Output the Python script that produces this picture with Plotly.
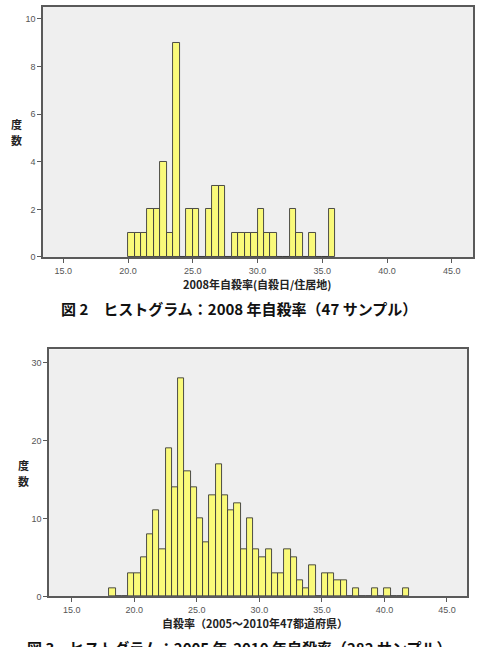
import plotly.graph_objects as go

# Figure 2: 2008 suicide rate histogram (47 samples), bin width 0.5
bins1_left = [20.0, 20.5, 21.0, 21.5, 22.0, 22.5, 23.0, 23.5, 24.0, 24.5, 25.0, 25.5,
              26.0, 26.5, 27.0, 27.5, 28.0, 28.5, 29.0, 29.5, 30.0, 30.5, 31.0, 31.5,
              32.0, 32.5, 33.0, 33.5, 34.0, 34.5, 35.0, 35.5]
counts1 = [1, 1, 1, 2, 2, 4, 1, 9, 0, 2, 2, 0,
           2, 3, 3, 0, 1, 1, 1, 1, 2, 1, 1, 0,
           0, 2, 1, 0, 1, 0, 0, 2]

# Figure 3: 2005-2010 suicide rate histogram (282 samples), bin width 0.5
bins2_left = [18.0, 18.5, 19.0, 19.5, 20.0, 20.5, 21.0, 21.5, 22.0, 22.5, 23.0, 23.5,
              24.0, 24.5, 25.0, 25.5, 26.0, 26.5, 27.0, 27.5, 28.0, 28.5, 29.0, 29.5,
              30.0, 30.5, 31.0, 31.5, 32.0, 32.5, 33.0, 33.5, 34.0, 34.5, 35.0, 35.5,
              36.0, 36.5, 37.0, 37.5, 38.0, 38.5, 39.0, 39.5, 40.0, 40.5, 41.0, 41.5]
counts2 = [1, 0, 0, 3, 3, 5, 8, 11, 6, 19, 14, 28,
           16, 14, 10, 7, 13, 17, 13, 11, 12, 6, 10, 6,
           5, 6, 3, 3, 6, 5, 2, 1, 4, 0, 3, 3,
           2, 2, 0, 1, 0, 0, 1, 0, 1, 0, 0, 1]

bin_width = 0.5
x_ticks = [15, 20, 25, 30, 35, 40, 45]
y1_ticks = [0, 2, 4, 6, 8, 10]
y2_ticks = [0, 10, 20, 30]

xtitle1 = "2008年自殺率(自殺日/住居地)"
xtitle2 = "自殺率（2005～2010年47都道府県）"
ytitle_chars = ["度", "数"]
caption1 = "図 2　ヒストグラム：2008 年自殺率（47 サンプル）"
caption2 = "図 3　ヒストグラム：2005 年-2010 年自殺率（282 サンプル）"

W, H = 481, 647
BAR_FILL = "#FAFA7A"
BAR_LINE = "#3a3a3a"
FRAME = "#5a5a5a"
BG = "#EFEFEF"
CJK = "Noto Sans CJK JP"


def px_x(p):
    return p / W


def px_y(p):
    return 1 - p / H


fig = go.Figure()
fig.add_trace(go.Bar(
    x=[b + bin_width / 2 for b in bins1_left], y=counts1, width=bin_width,
    marker=dict(color=BAR_FILL, line=dict(color=BAR_LINE, width=0.9)),
    xaxis="x", yaxis="y", showlegend=False))
fig.add_trace(go.Bar(
    x=[b + bin_width / 2 for b in bins2_left], y=counts2, width=bin_width,
    marker=dict(color=BAR_FILL, line=dict(color=BAR_LINE, width=0.9)),
    xaxis="x2", yaxis="y2", showlegend=False))

axis_common = dict(showline=True, linecolor=FRAME, linewidth=1.5, mirror=True,
                   showgrid=False, zeroline=False, ticks="outside", ticklen=4,
                   tickcolor=FRAME, tickwidth=1,
                   tickfont=dict(family="Liberation Sans", size=9, color="#555555"))

fig.update_layout(
    width=W, height=H, margin=dict(l=0, r=0, t=0, b=0),
    paper_bgcolor="white", plot_bgcolor=BG, bargap=0,
    xaxis=dict(domain=[px_x(43), px_x(473)], range=[13.43, 46.64], anchor="y",
               tickmode="array", tickvals=x_ticks, tickformat=".1f", **axis_common),
    yaxis=dict(domain=[px_y(259), px_y(7)], range=[0, 10.5], anchor="x",
               tickmode="array", tickvals=y1_ticks, **axis_common),
    xaxis2=dict(domain=[px_x(49), px_x(467)], range=[13.18, 46.6], anchor="y2",
                tickmode="array", tickvals=x_ticks, tickformat=".1f", **axis_common),
    yaxis2=dict(domain=[px_y(601), px_y(352)], range=[0, 31.7], anchor="x2",
                tickmode="array", tickvals=y2_ticks, **axis_common),
)

title_font = dict(family=CJK, size=11, color="#222222", weight="bold")
ann = []


def add_text(text, x, y, font):
    ann.append(dict(text=text, x=px_x(x), y=px_y(y), xref="paper", yref="paper",
                    showarrow=False, xanchor="center", yanchor="middle", font=font))


add_text(xtitle1, 257, 286, title_font)
add_text(ytitle_chars[0], 16, 125, title_font)
add_text(ytitle_chars[1], 16, 141, title_font)
add_text(caption1, 239, 311, dict(family=CJK, size=15, color="#111111", weight="bold"))
add_text(xtitle2, 255, 628, title_font)
add_text(ytitle_chars[0], 23, 469, title_font)
add_text(ytitle_chars[1], 23, 485, title_font)
add_text(caption2, 239, 653, dict(family=CJK, size=15, color="#111111", weight="bold"))
fig.update_layout(annotations=ann)

fig.write_html("out.html")
